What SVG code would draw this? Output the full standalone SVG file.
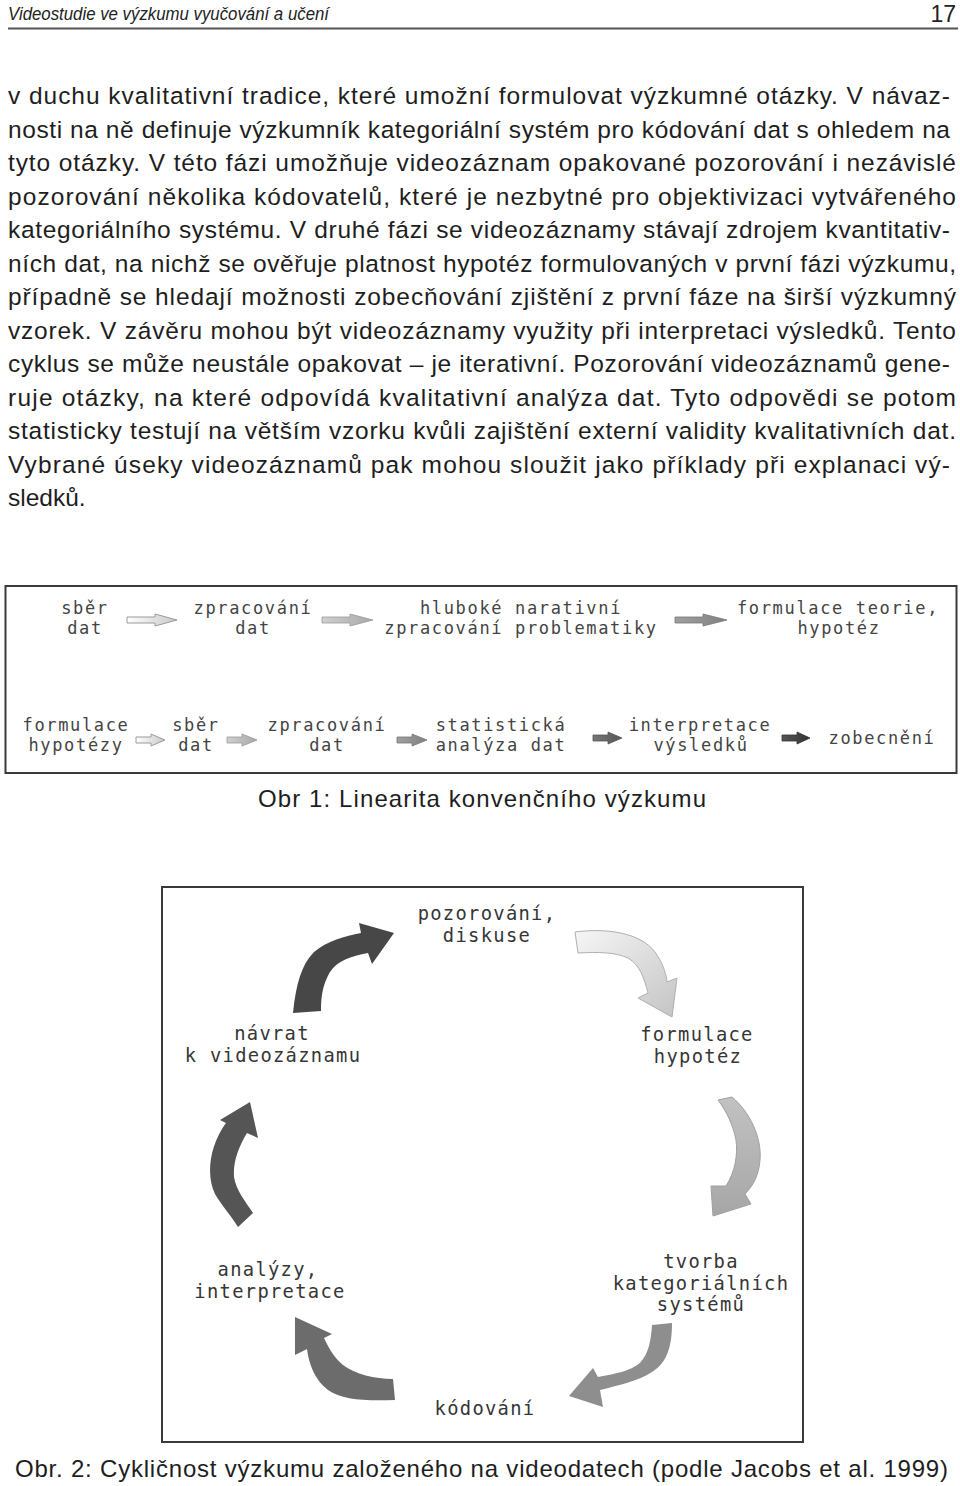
<svg xmlns="http://www.w3.org/2000/svg" width="960" height="1486" viewBox="0 0 960 1486">
<style>
.body{font-family:"Liberation Sans",Arial,sans-serif;font-size:24.5px;fill:#1e1e1e}
.hdr{font-family:"Liberation Sans",Arial,sans-serif;font-style:italic;font-size:18px;fill:#222}
.cap{font-family:"Liberation Sans",Arial,sans-serif;font-size:24px;fill:#1e1e1e}
.m1{font-family:"DejaVu Sans Mono","Liberation Mono",monospace;font-size:17px;letter-spacing:1.65px;fill:#444;text-anchor:middle}
.m2{font-family:"DejaVu Sans Mono","Liberation Mono",monospace;font-size:18.8px;letter-spacing:1.3px;fill:#363636;text-anchor:middle}
.frame{fill:#fff;stroke:#3a3a3a;stroke-width:2}
</style>
<defs>
<linearGradient id="gHollow" x1="0" y1="0" x2="1" y2="0"><stop offset="0" stop-color="#fff"/><stop offset="1" stop-color="#c8c8c8"/></linearGradient>
<linearGradient id="gLight" x1="0" y1="0" x2="1" y2="0"><stop offset="0" stop-color="#d0d0d0"/><stop offset="1" stop-color="#a8a8a8"/></linearGradient>
<linearGradient id="gMid" x1="0" y1="0" x2="1" y2="0"><stop offset="0" stop-color="#a0a0a0"/><stop offset="1" stop-color="#808080"/></linearGradient>
<linearGradient id="gDark" x1="0" y1="0" x2="1" y2="0"><stop offset="0" stop-color="#777"/><stop offset="1" stop-color="#555"/></linearGradient>
<linearGradient id="gDarker" x1="0" y1="0" x2="1" y2="0"><stop offset="0" stop-color="#555"/><stop offset="1" stop-color="#333"/></linearGradient>
<linearGradient id="gB" x1="0" y1="0" x2="1" y2="1"><stop offset="0" stop-color="#f6f6f6"/><stop offset="1" stop-color="#c4c4c4"/></linearGradient>
<linearGradient id="gC" x1="0" y1="0" x2="0" y2="1"><stop offset="0" stop-color="#c2c2c2"/><stop offset="1" stop-color="#a6a6a6"/></linearGradient>
</defs>

<!-- header -->
<text class="hdr" x="8" y="20" textLength="321" lengthAdjust="spacingAndGlyphs">Videostudie ve výzkumu vyučování a učení</text>
<text x="956" y="22" text-anchor="end" style="font-family:'Liberation Sans',Arial,sans-serif;font-size:23px;fill:#222">17</text>
<line x1="8" y1="28.5" x2="958" y2="28.5" stroke="#555" stroke-width="2"/>

<!-- body text -->
<g class="body">
<text x="8" y="104" textLength="942" lengthAdjust="spacing">v duchu kvalitativní tradice, které umožní formulovat výzkumné otázky. V návaz-</text>
<text x="8" y="137.5" textLength="942" lengthAdjust="spacing">nosti na ně definuje výzkumník kategoriální systém pro kódování dat s ohledem na</text>
<text x="8" y="171" textLength="948" lengthAdjust="spacing">tyto otázky. V této fázi umožňuje videozáznam opakované pozorování i nezávislé</text>
<text x="8" y="204.5" textLength="948" lengthAdjust="spacing">pozorování několika kódovatelů, které je nezbytné pro objektivizaci vytvářeného</text>
<text x="8" y="238" textLength="942" lengthAdjust="spacing">kategoriálního systému. V druhé fázi se videozáznamy stávají zdrojem kvantitativ-</text>
<text x="8" y="271.5" textLength="948" lengthAdjust="spacing">ních dat, na nichž se ověřuje platnost hypotéz formulovaných v první fázi výzkumu,</text>
<text x="8" y="305" textLength="948" lengthAdjust="spacing">případně se hledají možnosti zobecňování zjištění z první fáze na širší výzkumný</text>
<text x="8" y="338.5" textLength="948" lengthAdjust="spacing">vzorek. V závěru mohou být videozáznamy využity při interpretaci výsledků. Tento</text>
<text x="8" y="372" textLength="942" lengthAdjust="spacing">cyklus se může neustále opakovat – je iterativní. Pozorování videozáznamů gene-</text>
<text x="8" y="405.5" textLength="948" lengthAdjust="spacing">ruje otázky, na které odpovídá kvalitativní analýza dat. Tyto odpovědi se potom</text>
<text x="8" y="439" textLength="948" lengthAdjust="spacing">statisticky testují na větším vzorku kvůli zajištění externí validity kvalitativních dat.</text>
<text x="8" y="472.5" textLength="942" lengthAdjust="spacing">Vybrané úseky videozáznamů pak mohou sloužit jako příklady při explanaci vý-</text>
<text x="8" y="506">sledků.</text>
</g>

<!-- Figure 1 -->
<g id="fig1">
<rect class="frame" x="5.5" y="586" width="951" height="187"/>
<g id="f1-sber1"><text class="m1" y="614"><tspan x="85">sběr</tspan><tspan x="85" dy="20">dat</tspan></text></g>
<g id="f1-zprac1"><text class="m1" y="614"><tspan x="253">zpracování</tspan><tspan x="253" dy="20">dat</tspan></text></g>
<g id="f1-hlub"><text class="m1" y="614"><tspan x="521">hluboké narativní</tspan><tspan x="521" dy="20">zpracování problematiky</tspan></text></g>
<g id="f1-teorie"><text class="m1" y="614"><tspan x="838">formulace teorie,</tspan><tspan x="839" dy="20">hypotéz</tspan></text></g>
<g id="f1-form"><text class="m1" y="731"><tspan x="76">formulace</tspan><tspan x="76" dy="20">hypotézy</tspan></text></g>
<g id="f1-sber2"><text class="m1" y="731"><tspan x="196">sběr</tspan><tspan x="196" dy="20">dat</tspan></text></g>
<g id="f1-zprac2"><text class="m1" y="731"><tspan x="327">zpracování</tspan><tspan x="327" dy="20">dat</tspan></text></g>
<g id="f1-stat"><text class="m1" y="731"><tspan x="501">statistická</tspan><tspan x="501" dy="20">analýza dat</tspan></text></g>
<g id="f1-interp"><text class="m1" y="731"><tspan x="700">interpretace</tspan><tspan x="701" dy="20">výsledků</tspan></text></g>
<g id="f1-zobec"><text class="m1" x="882" y="744">zobecnění</text></g>
<g id="f1-connectors">
<polygon points="127,617 155,617 155,614 177,620 155,626 155,623 127,623" fill="url(#gHollow)" stroke="#9a9a9a" stroke-width="1"/>
<polygon points="322,617 350,617 350,614 373,620 350,626 350,623 322,623" fill="url(#gLight)" stroke="#999" stroke-width="0.8"/>
<polygon points="675,617 703,617 703,614 727,620 703,626 703,623 675,623" fill="url(#gMid)" stroke="#777" stroke-width="0.8"/>
<polygon points="136,737 151,737 151,734 165,740 151,746 151,743 136,743" fill="url(#gHollow)" stroke="#9a9a9a" stroke-width="1"/>
<polygon points="227,737 242,737 242,734 257,740 242,746 242,743 227,743" fill="url(#gLight)" stroke="#999" stroke-width="0.8"/>
<polygon points="397,737 412,737 412,734 427,740 412,746 412,743 397,743" fill="url(#gMid)" stroke="#777" stroke-width="0.8"/>
<polygon points="593,735 608,735 608,732 622,738 608,744 608,741 593,741" fill="url(#gDark)" stroke="#555" stroke-width="0.8"/>
<polygon points="782,735 797,735 797,732 810,738 797,744 797,741 782,741" fill="url(#gDarker)" stroke="#333" stroke-width="0.8"/>
</g>
</g>
<text class="cap" x="482" y="807" text-anchor="middle" textLength="448" lengthAdjust="spacing">Obr 1: Linearita konvenčního výzkumu</text>

<!-- Figure 2 -->
<g id="fig2">
<rect class="frame" x="162" y="887" width="641" height="555"/>
<g id="f2-pozor"><text class="m2" y="920"><tspan x="487">pozorování,</tspan><tspan x="487" dy="22">diskuse</tspan></text></g>
<g id="f2-form"><text class="m2" y="1041"><tspan x="697">formulace</tspan><tspan x="698" dy="22">hypotéz</tspan></text></g>
<g id="f2-tvorba"><text class="m2" y="1268"><tspan x="701">tvorba</tspan><tspan x="701" dy="21.5">kategoriálních</tspan><tspan x="701" dy="21.5">systémů</tspan></text></g>
<g id="f2-kod"><text class="m2" x="485" y="1415">kódování</text></g>
<g id="f2-anal"><text class="m2" y="1276"><tspan x="268">analýzy,</tspan><tspan x="270" dy="22">interpretace</tspan></text></g>
<g id="f2-navrat"><text class="m2" y="1040"><tspan x="272">návrat</tspan><tspan x="273" dy="22">k videozáznamu</tspan></text></g>
<g id="f2-connectors">
<path d="M293 1013 C296 985 301 965 314 952 C327 941 345 936 361 933 L359 923 L394 933 L372 964 L368 953 C351 956 337 961 330 972 C323 984 321 995 321 1011 Z" fill="#474747"/>
<path d="M575 932 C605 928 640 932 655 952 C662 962 666 972 667 982 L677 978 L672 1017 L638 998 L648 993 C644 978 640 965 628 958 C615 952 598 952 578 953 Z" fill="url(#gB)" stroke="#b0b0b0" stroke-width="1"/>
<path d="M718 1100 L732 1097 C750 1112 762 1138 760 1160 C759 1175 753 1186 745 1194 L751 1204 L713 1216 L711 1186 L726 1186 C735 1172 738 1155 736 1140 C733 1125 727 1112 718 1100 Z" fill="url(#gC)" stroke="#a0a0a0" stroke-width="1"/>
<path d="M652 1325 L672 1323 C672 1345 668 1362 652 1372 C638 1381 620 1385 600 1390 L603 1407 L569 1396 L593 1368 L598 1377 C615 1374 630 1371 640 1363 C649 1353 651 1340 652 1325 Z" fill="#8e8e8e"/>
<path d="M393 1379 C375 1379 355 1374 343 1365 C333 1357 328 1346 324 1338 L332 1334 L295 1317 L295 1355 L307 1349 C309 1365 315 1380 328 1390 C342 1400 365 1401 395 1400 Z" fill="#6c6c6c"/>
<path d="M226 1123 L220 1120 L250 1102 L258 1138 L247 1133 C238 1148 233 1162 234 1177 C236 1190 245 1201 253 1213 L238 1227 C232 1217 222 1206 215 1194 C206 1176 209 1146 226 1123 Z" fill="#555"/>
</g>
</g>
<text class="cap" x="15" y="1477" textLength="933" lengthAdjust="spacing">Obr. 2: Cykličnost výzkumu založeného na videodatech (podle Jacobs et al. 1999)</text>
</svg>
